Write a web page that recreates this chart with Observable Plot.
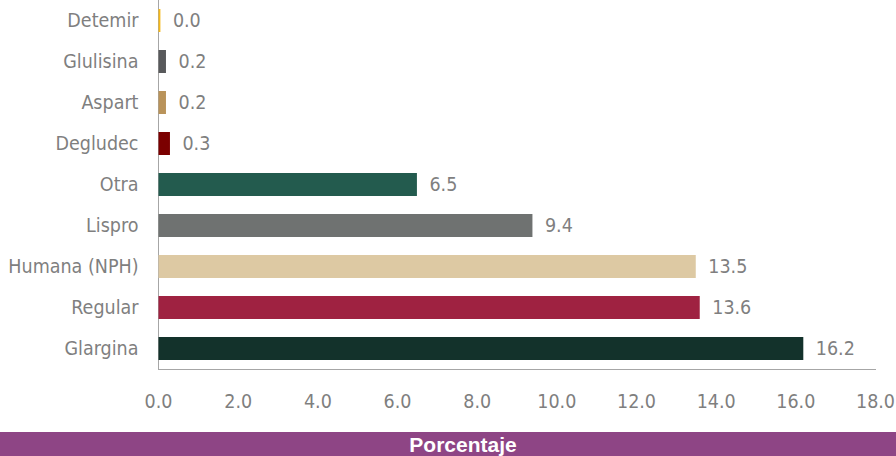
<!DOCTYPE html>
<html>
<head>
<meta charset="utf-8">
<script src="https://cdn.jsdelivr.net/npm/d3@7"></script>
<script src="https://cdn.jsdelivr.net/npm/@observablehq/plot@0.6"></script>
<style>
  html, body { margin: 0; padding: 0; background: #fff; }
  #chart { width: 896px; height: 432px; }
  #band { width: 896px; height: 24px; background: #8e4585; color: #fff;
          font-family: "Liberation Sans", Arial, sans-serif; font-weight: bold;
          font-size: 21px; line-height: 25px; text-align: center; box-sizing: border-box; padding-left: 30px; }
</style>
</head>
<body>
<div id="chart"></div>
<div id="band">Porcentaje</div>
<script>
const categories = ["Detemir", "Glulisina", "Aspart", "Degludec", "Otra", "Lispro", "Humana (NPH)", "Regular", "Glargina"];
const values = [0.06, 0.2, 0.2, 0.3, 6.5, 9.4, 13.5, 13.6, 16.2];
const labels = ["0.0", "0.2", "0.2", "0.3", "6.5", "9.4", "13.5", "13.6", "16.2"];
const colors = ["#f5b818", "#58595b", "#b9935a", "#7b0000", "#235b4e", "#6f7271", "#ddc9a3", "#9f2241", "#13322b"];
const xTicks = [0, 2, 4, 6, 8, 10, 12, 14, 16, 18];

const data = categories.map((c, i) => ({cat: c, value: values[i], label: labels[i], color: colors[i]}));
const font = "'Liberation Sans Narrow', 'DejaVu Sans Condensed', sans-serif";

const plot = Plot.plot({
  width: 896,
  height: 432,
  marginTop: 0,
  marginBottom: 63,
  marginLeft: 158,
  marginRight: 21,
  style: {fontFamily: font, fontSize: "19px", color: "#7f7f7f", background: "#fff"},
  x: {domain: [0, 18], axis: null},
  y: {domain: categories, paddingInner: 0.44, paddingOuter: 0.22, axis: null},
  marks: [
    Plot.ruleX([0], {stroke: "#a6a6a6", strokeWidth: 1}),
    Plot.frame({anchor: "bottom", stroke: "#a6a6a6"}),
    Plot.barX(data, {x: "value", y: "cat", fill: "color", insetLeft: 0.5}),
    Plot.text(data, {x: "value", y: "cat", text: "label", textAnchor: "start", dx: 12, fill: "#7f7f7f", fontSize: 19.5}),
    Plot.axisY({tickSize: 0, tickPadding: 20, fontSize: 19.5, fill: "#7f7f7f", label: null}),
    Plot.axisX({ticks: xTicks, tickFormat: d3.format(".1f"), tickSize: 0, tickPadding: 25, fontSize: 19.5, fill: "#7f7f7f", label: null})
  ]
});
document.getElementById("chart").appendChild(plot);
</script>
</body>
</html>
